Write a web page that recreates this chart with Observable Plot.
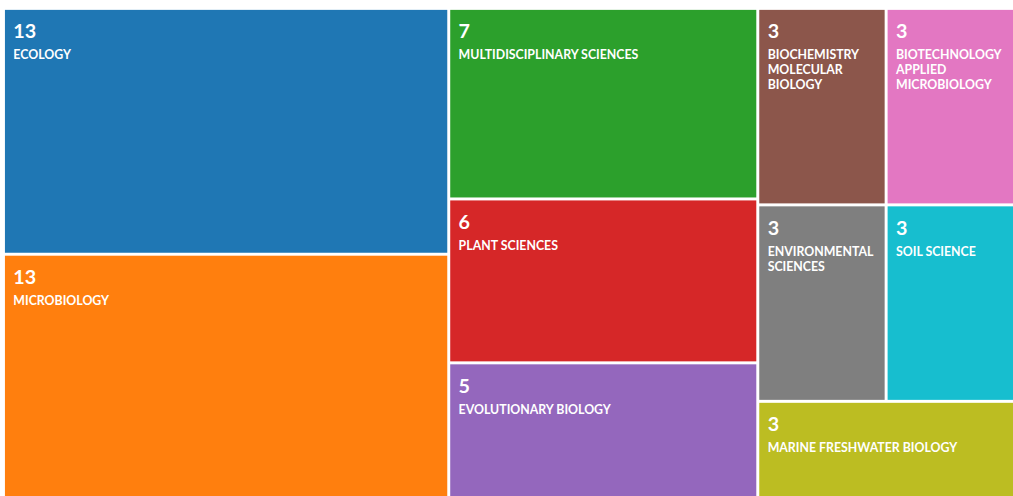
<!DOCTYPE html>
<html>
<head>
<meta charset="utf-8">
<script src="https://cdn.jsdelivr.net/npm/d3@7"></script>
<script src="https://cdn.jsdelivr.net/npm/@observablehq/plot@0.6"></script>
<style>
  html, body { margin: 0; padding: 0; background: #fff; overflow: hidden; }
  #chart svg { display: block; }
</style>
</head>
<body>
<div id="chart"></div>
<script>
// ---- data ----
const categories = [
  "ECOLOGY",
  "MICROBIOLOGY",
  "MULTIDISCIPLINARY SCIENCES",
  "PLANT SCIENCES",
  "EVOLUTIONARY BIOLOGY",
  "BIOCHEMISTRY MOLECULAR BIOLOGY",
  "BIOTECHNOLOGY APPLIED MICROBIOLOGY",
  "ENVIRONMENTAL SCIENCES",
  "SOIL SCIENCE",
  "MARINE FRESHWATER BIOLOGY"
];
const counts = [13, 13, 7, 6, 5, 3, 3, 3, 3, 3];

// palette (category10, as in the reference)
const palette = {
  "ECOLOGY": "#1f77b4",
  "MICROBIOLOGY": "#ff7f0e",
  "MULTIDISCIPLINARY SCIENCES": "#2ca02c",
  "PLANT SCIENCES": "#d62728",
  "EVOLUTIONARY BIOLOGY": "#9467bd",
  "BIOCHEMISTRY MOLECULAR BIOLOGY": "#8c564b",
  "BIOTECHNOLOGY APPLIED MICROBIOLOGY": "#e377c2",
  "ENVIRONMENTAL SCIENCES": "#7f7f7f",
  "MARINE FRESHWATER BIOLOGY": "#bcbd22",
  "SOIL SCIENCE": "#17becf"
};

// ---- layout ----
const W = 1021, H = 494;
const mLeft = 5, mTop = 10;
const rows = categories.map((name, i) => ({name, value: counts[i]}));
const root = d3.hierarchy({children: rows}).sum(d => d.value || 0);
d3.treemap().tile(d3.treemapSquarify).size([W, H]).paddingInner(3).round(true)(root);
const leaves = root.leaves();

// wrap labels to the tile width
const labelFont = "bold 12.5px Lato, 'Open Sans', sans-serif";
const ctx = document.createElement("canvas").getContext("2d");
ctx.font = labelFont;
function wrap(text, maxW) {
  const words = text.split(" ");
  const lines = [];
  let line = "";
  for (const w of words) {
    const t = line ? line + " " + w : w;
    if (line && ctx.measureText(t).width > maxW) { lines.push(line); line = w; }
    else line = t;
  }
  if (line) lines.push(line);
  return lines.join("\n");
}
leaves.forEach(d => { d.label = wrap(d.data.name, d.x1 - d.x0 - 14); });

const chart = Plot.plot({
  width: mLeft + W,
  height: mTop + H,
  marginLeft: mLeft,
  marginTop: mTop,
  marginRight: 0,
  marginBottom: 0,
  x: {domain: [0, W], axis: null},
  y: {domain: [0, H], reverse: true, axis: null},
  color: {domain: Object.keys(palette), range: Object.values(palette)},
  style: {fontFamily: "Lato, 'Open Sans', sans-serif", background: "#fff"},
  marks: [
    Plot.rect(leaves, {x1: "x0", x2: "x1", y1: "y0", y2: "y1", fill: d => d.data.name}),
    Plot.text(leaves, {
      x: "x0", y: "y0", text: d => String(d.value),
      dx: 8, dy: 14, textAnchor: "start", lineAnchor: "top",
      fill: "white", fontSize: 20, fontWeight: "bold"
    }),
    Plot.text(leaves, {
      x: "x0", y: "y0", text: "label",
      dx: 8, dy: 39, textAnchor: "start", lineAnchor: "top",
      fill: "white", fontSize: 12.5, fontWeight: "bold", lineHeight: 1.2
    })
  ]
});
document.getElementById("chart").append(chart);
</script>
</body>
</html>
